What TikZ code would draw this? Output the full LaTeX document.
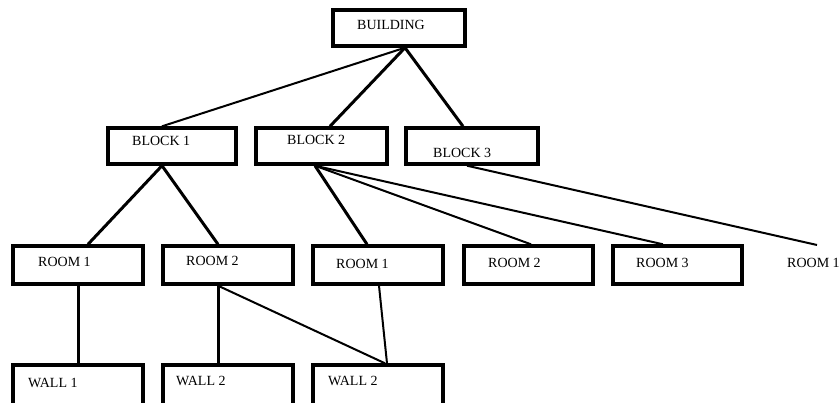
\documentclass[tikz,border=0pt]{standalone}
\usepackage{fontspec}
\setmainfont{Liberation Serif}
\begin{document}
\begin{tikzpicture}[x=1pt,y=-1pt,
  box/.style={draw,line width=3.4pt,inner sep=0pt,minimum height=#1},
  box/.default=36pt,
  txt/.style={anchor=base west,inner sep=0pt,font=\fontsize{14}{16}\selectfont},
  thick line/.style={line width=3pt},
  thin line/.style={line width=2pt}]
\useasboundingbox (0,0) rectangle (839,403);
% boxes
\node[box,minimum width=132pt] (building) at (399,28) {};
\node[box,minimum width=128pt] (block1) at (172,146) {};
\node[box,minimum width=131pt] (block2) at (321.5,146) {};
\node[box,minimum width=132pt] (block3) at (472,146) {};
\node[box=38pt,minimum width=130pt] (room1) at (78,265) {};
\node[box=38pt,minimum width=130pt] (room2) at (228,265) {};
\node[box=38pt,minimum width=130pt] (room1b) at (378,265) {};
\node[box=38pt,minimum width=129pt] (room2b) at (528.5,265) {};
\node[box=38pt,minimum width=129pt] (room3) at (677.5,265) {};
\node[box=60pt,minimum width=130pt] (wall1) at (78,395) {};
\node[box=60pt,minimum width=130pt] (wall2) at (228,395) {};
\node[box=60pt,minimum width=130pt] (wall2b) at (378,395) {};
% texts
\node[txt] (tbuilding) at (357,30) {BUILDING};
\node[txt] (tblock1) at (132,146) {BLOCK 1};
\node[txt] (tblock2) at (287,145) {BLOCK 2};
\node[txt] (tblock3) at (433,158) {BLOCK 3};
\node[txt] (troom1) at (38,267) {ROOM 1};
\node[txt] (troom2) at (186,266) {ROOM 2};
\node[txt] (troom1b) at (336,269) {ROOM 1};
\node[txt] (troom2b) at (488,268) {ROOM 2};
\node[txt] (troom3) at (636,268) {ROOM 3};
\node[txt] (troomfree) at (787,268) {ROOM 1};
\node[txt] (twall1) at (28,388) {WALL 1};
\node[txt] (twall2) at (176,386) {WALL 2};
\node[txt] (twall2b) at (328,386) {WALL 2};
\coordinate (freetop) at (817,245);
% connectors
\draw[thin line] ([xshift=6pt]building.south) -- ([xshift=-10pt]block1.north);
\draw[thick line] ([xshift=6pt]building.south) -- ([xshift=8.5pt]block2.north);
\draw[thick line] ([xshift=6pt]building.south) -- ([xshift=-9pt]block3.north);
\draw[thick line] ([xshift=-10pt]block1.south) -- ([xshift=10pt]room1.north);
\draw[thick line] ([xshift=-10pt]block1.south) -- ([xshift=-10pt]room2.north);
\draw[thick line] ([xshift=-6.5pt]block2.south) -- ([xshift=-11pt]room1b.north);
\draw[thin line] ([xshift=-6.5pt]block2.south) -- ([xshift=2.5pt]room2b.north);
\draw[thin line] ([xshift=-6.5pt]block2.south) -- ([xshift=-14.5pt]room3.north);
\draw[thin line] ([xshift=-5pt]block3.south) -- (freetop);
\draw[thick line] (room1.south) -- (wall1.north);
\draw[thick line] ([xshift=-10pt]room2.south) -- ([xshift=-10pt]wall2.north);
\draw[thin line] ([xshift=-10pt]room2.south) -- ([xshift=7pt]wall2b.north);
\draw[thin line] ([xshift=1pt]room1b.south) -- ([xshift=9pt]wall2b.north);
\end{tikzpicture}
\end{document}
